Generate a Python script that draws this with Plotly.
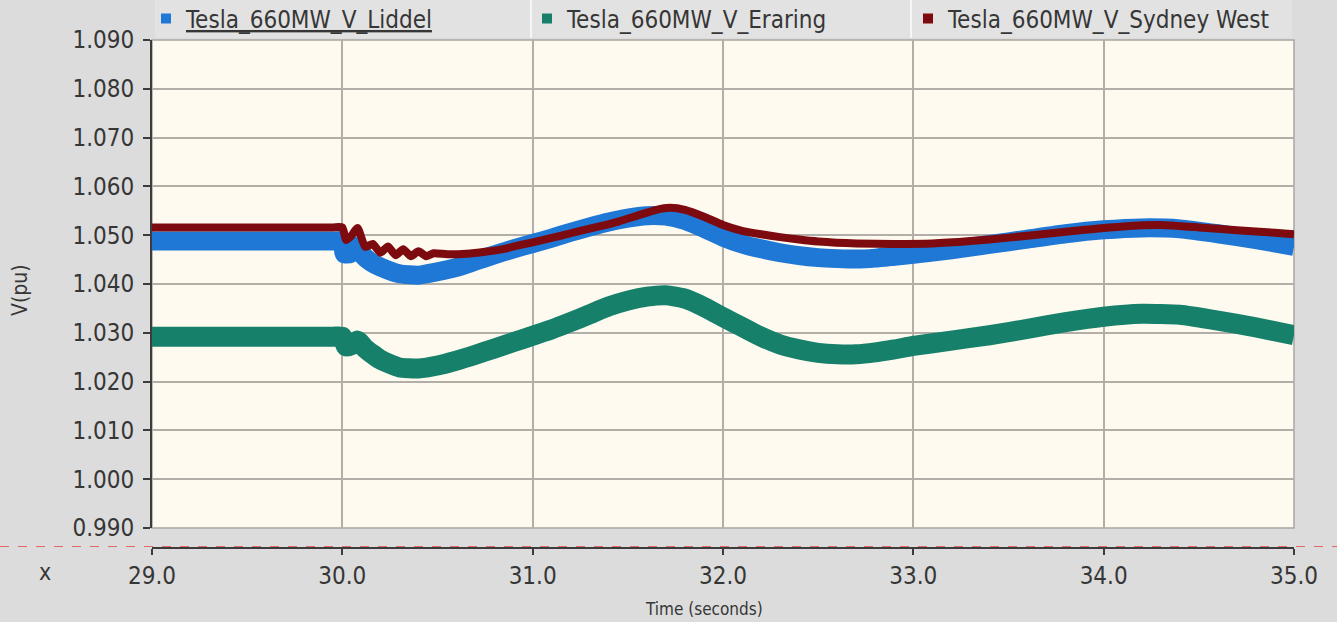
import plotly.graph_objects as go

# Bus voltage traces (pu) against simulation time (s)
t_liddel = [29.0, 29.5, 29.95, 30.0, 30.01, 30.04, 30.07, 30.10, 30.15, 30.2, 30.3, 30.4, 30.5,
            30.6, 30.7, 30.8, 30.9, 31.0, 31.1, 31.2, 31.3, 31.4, 31.5, 31.6, 31.7, 31.8,
            31.9, 32.0, 32.1, 32.2, 32.3, 32.4, 32.5, 32.6, 32.7, 32.8, 32.9, 33.0, 33.2,
            33.4, 33.6, 33.8, 34.0, 34.2, 34.4, 34.6, 34.8, 35.0]
v_liddel = [1.0488, 1.0488, 1.0488, 1.0488, 1.0462, 1.0462, 1.0478, 1.0462, 1.0445, 1.0435,
            1.0421, 1.0418, 1.0425, 1.0434, 1.0447, 1.0460, 1.0472, 1.0483, 1.0494, 1.0506,
            1.0517, 1.0527, 1.0535, 1.0540, 1.0539, 1.0530, 1.0514, 1.0496, 1.0482, 1.0472,
            1.0464, 1.0458, 1.0454, 1.0452, 1.0451, 1.0453, 1.0457, 1.0461, 1.0470, 1.0481,
            1.0492, 1.0503, 1.0511, 1.0515, 1.0513, 1.0503, 1.0491, 1.0477]

t_eraring = [29.0, 29.5, 29.95, 30.0, 30.02, 30.05, 30.08, 30.12, 30.2, 30.3, 30.4, 30.5, 30.6,
             30.7, 30.8, 30.9, 31.0, 31.1, 31.2, 31.3, 31.4, 31.5, 31.6, 31.7, 31.8, 31.9,
             32.0, 32.1, 32.2, 32.3, 32.4, 32.5, 32.6, 32.7, 32.8, 32.9, 33.0, 33.2, 33.4,
             33.6, 33.8, 34.0, 34.2, 34.4, 34.6, 34.8, 35.0]
v_eraring = [1.0292, 1.0292, 1.0292, 1.0292, 1.0272, 1.0275, 1.0284, 1.0268, 1.0245, 1.0229,
             1.0227, 1.0233, 1.0243, 1.0255, 1.0268, 1.0281, 1.0294, 1.0307, 1.0322, 1.0338,
             1.0354, 1.0366, 1.0374, 1.0377, 1.0370, 1.0353, 1.0332, 1.0312, 1.0292, 1.0276,
             1.0266, 1.0259, 1.0256, 1.0256, 1.0260, 1.0266, 1.0273, 1.0284, 1.0295, 1.0308,
             1.0322, 1.0333, 1.0339, 1.0337, 1.0325, 1.0311, 1.0295]

t_sydney = [29.0, 29.5, 29.95, 30.0, 30.02, 30.05, 30.08, 30.12, 30.16, 30.20, 30.24, 30.28,
            30.32, 30.36, 30.40, 30.44, 30.48, 30.55, 30.65, 30.75, 30.85, 30.95, 31.05,
            31.15, 31.25, 31.35, 31.45, 31.55, 31.65, 31.72, 31.8, 31.9, 32.0, 32.1, 32.2,
            32.3, 32.4, 32.5, 32.7, 32.9, 33.1, 33.3, 33.5, 33.7, 33.9, 34.1, 34.3, 34.5,
            34.7, 34.9, 35.0]
v_sydney = [1.0516, 1.0516, 1.0516, 1.0516, 1.0490, 1.0500, 1.0515, 1.0476, 1.0482, 1.0464,
            1.0477, 1.0459, 1.0471, 1.0457, 1.0467, 1.0457, 1.0463, 1.0461, 1.0462, 1.0466,
            1.0472, 1.0481, 1.0490, 1.0499, 1.0509, 1.0518, 1.0528, 1.0540, 1.0552, 1.0556,
            1.0552, 1.0538, 1.0521, 1.0509, 1.0502, 1.0496, 1.0491, 1.0487, 1.0483, 1.0482,
            1.0483, 1.0488, 1.0495, 1.0503, 1.0511, 1.0518, 1.0521, 1.0516, 1.0510, 1.0505,
            1.0502]

series_names = ["Tesla_660MW_V_Liddel", "Tesla_660MW_V_Eraring", "Tesla_660MW_V_Sydney West"]
x_ticks = [29.0, 30.0, 31.0, 32.0, 33.0, 34.0, 35.0]
y_ticks = [0.990, 1.000, 1.010, 1.020, 1.030, 1.040, 1.050, 1.060, 1.070, 1.080, 1.090]

FONT = "DejaVu Sans Condensed, DejaVu Sans, sans-serif"
TEXT = "#363636"
COLORS = ["#1f78d6", "#16806a", "#7d0a0f"]
WIDTHS = [19, 20, 8]

W, H = 1337, 622
ML, MR, MT, MB = 152, 43, 40, 74
PW, PH = W - ML - MR, H - MT - MB

fig = go.Figure()

for t, v, c, w in zip([t_liddel, t_eraring, t_sydney], [v_liddel, v_eraring, v_sydney], COLORS, WIDTHS):
    fig.add_trace(go.Scatter(x=t, y=v, mode="lines",
                             line=dict(color=c, width=w, shape="spline", smoothing=0.5),
                             showlegend=False, hoverinfo="skip"))

# legend entries with small square swatches
for i, (name, c) in enumerate(zip(series_names, COLORS)):
    label = f"<u>{name}</u>" if i == 0 else name
    fig.add_trace(go.Scatter(x=[None], y=[None], mode="markers", name=label,
                             marker=dict(symbol="square", size=10, color=c)))

def px_x(p):
    return (p - ML) / PW

def px_y(p):
    return (H - MB - p) / PH

shapes = [
    # legend band
    dict(type="rect", xref="paper", yref="paper", x0=px_x(155), x1=px_x(1292),
         y0=px_y(38), y1=px_y(0), fillcolor="#e2e2e2", line=dict(width=0), layer="below"),
    dict(type="line", xref="paper", yref="paper", x0=px_x(531), x1=px_x(531),
         y0=px_y(38), y1=px_y(0), line=dict(color="#f6f6f6", width=2)),
    dict(type="line", xref="paper", yref="paper", x0=px_x(911), x1=px_x(911),
         y0=px_y(38), y1=px_y(0), line=dict(color="#f6f6f6", width=2)),
    # plot frame
    dict(type="rect", xref="x domain", yref="y domain", x0=0, x1=1, y0=0, y1=1,
         line=dict(color="#a9a6a0", width=1.5), layer="below"),
    # dashed marker line across the full width
    dict(type="line", xref="paper", yref="paper", x0=px_x(0), x1=px_x(W),
         y0=px_y(546.5), y1=px_y(546.5), line=dict(color="#e06a6a", width=1, dash="dash")),
]

annotations = [
    dict(text="V(pu)", xref="paper", yref="paper", x=px_x(20), y=px_y(290), textangle=-90,
         showarrow=False, font=dict(family=FONT, size=21, color=TEXT),
         xanchor="center", yanchor="middle"),
    dict(text="x", xref="paper", yref="paper", x=px_x(45), y=px_y(572), showarrow=False,
         font=dict(family=FONT, size=23, color=TEXT), xanchor="center", yanchor="middle"),
    dict(text="Time (seconds)", xref="paper", yref="paper", x=px_x(704), y=px_y(609),
         showarrow=False, font=dict(family=FONT, size=17, color=TEXT),
         xanchor="center", yanchor="middle"),
]

fig.update_layout(
    width=W, height=H,
    margin=dict(l=ML, r=MR, t=MT, b=MB, pad=0, autoexpand=False),
    paper_bgcolor="#dcdcdc",
    plot_bgcolor="#fffaf0",
    font=dict(family=FONT, size=24, color=TEXT),
    showlegend=True,
    legend=dict(orientation="h", x=px_x(146), xanchor="left", y=px_y(19), yanchor="middle",
                bgcolor="rgba(0,0,0,0)", borderwidth=0, entrywidth=336,
                entrywidthmode="pixels", font=dict(family=FONT, size=24, color=TEXT),
                itemclick=False, itemdoubleclick=False, tracegroupgap=0),
    shapes=shapes,
    annotations=annotations,
    xaxis=dict(range=[29.0, 35.0], tickvals=x_ticks, ticktext=[f"{v:.1f}" for v in x_ticks],
               anchor="free", position=0, showline=True, linecolor="#3c3c3c", linewidth=2,
               ticks="outside", ticklen=6, tickwidth=1.5, tickcolor="#3c3c3c",
               showgrid=True, gridcolor="#b3afa8", gridwidth=1.5, zeroline=False,
               automargin=False, tickfont=dict(family=FONT, size=24, color=TEXT)),
    yaxis=dict(range=[0.990, 1.090], tickvals=y_ticks, ticktext=[f"{v:.3f}" for v in y_ticks],
               domain=[px_y(528), 1.0], showline=True, linecolor="#3c3c3c", linewidth=2,
               ticks="outside", ticklen=7, tickwidth=1.5, tickcolor="#3c3c3c",
               showgrid=True, gridcolor="#b3afa8", gridwidth=1.5, zeroline=False,
               automargin=False, ticklabelstandoff=4,
               tickfont=dict(family=FONT, size=24, color=TEXT)),
)

fig.write_html("out.html")
